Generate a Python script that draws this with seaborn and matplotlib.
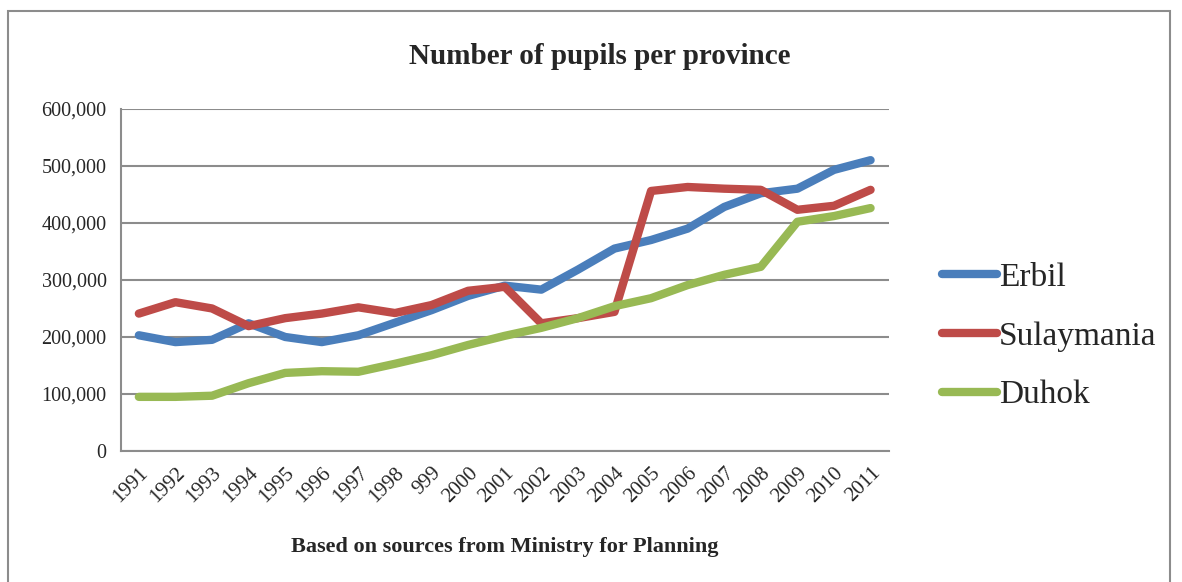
import matplotlib
matplotlib.use("Agg")
import matplotlib.pyplot as plt
import pandas as pd
import seaborn as sns
from matplotlib.patches import Rectangle
from matplotlib.ticker import FuncFormatter, FixedLocator

# ── Data ──────────────────────────────────────────────────────────────────
years = ["1991", "1992", "1993", "1994", "1995", "1996", "1997", "1998", "999",
         "2000", "2001", "2002", "2003", "2004", "2005", "2006", "2007", "2008",
         "2009", "2010", "2011"]
erbil = [203000, 191000, 195000, 224000, 200000, 191000, 203000, 225000, 247000,
         272000, 290000, 283000, 318000, 355000, 370000, 390000, 428000, 452000,
         460000, 493000, 510000]
sulaymania = [241000, 261000, 250000, 219000, 233000, 241000, 252000, 242000, 256000,
              281000, 288000, 224000, 233000, 244000, 456000, 463000, 460000, 458000,
              423000, 430000, 458000]
duhok = [95000, 95000, 97000, 119000, 137000, 140000, 139000, 153000, 168000,
         186000, 202000, 216000, 233000, 254000, 268000, 291000, 309000, 323000,
         402000, 412000, 426000]

df = pd.DataFrame({"year": years, "Erbil": erbil,
                   "Sulaymania": sulaymania, "Duhok": duhok})
long = df.melt(id_vars="year", var_name="province", value_name="pupils")
long["pos"] = long["year"].map({y: i for i, y in enumerate(years)})

palette = {"Erbil": "#4A7EBB", "Sulaymania": "#BE4B48", "Duhok": "#98B954"}

# ── Plot ──────────────────────────────────────────────────────────────────
sns.set_style("white")
plt.rcParams["font.family"] = ["Liberation Serif", "DejaVu Serif"]

fig = plt.figure(figsize=(11.82, 5.82), dpi=100)
ax = fig.add_axes([0.102, 0.225, 0.650, 0.588])

sns.lineplot(data=long, x="pos", y="pupils", hue="province", palette=palette,
             linewidth=6, solid_capstyle="round", ax=ax, legend=True)

ax.set_xlim(-0.5, len(years) - 0.5)
ax.set_ylim(0, 600000)
ax.set_yticks(range(0, 600001, 100000))
ax.yaxis.set_major_formatter(FuncFormatter(lambda v, p: f"{int(v):,}"))
ax.grid(axis="y", color="#8c8c8c", linewidth=1.5)
ax.set_axisbelow(True)

ax.xaxis.set_major_locator(FixedLocator(range(len(years))))
ax.set_xticklabels(years, rotation=45, ha="right", rotation_mode="anchor", fontsize=15)
ax.xaxis.set_minor_locator(FixedLocator([i - 0.5 for i in range(len(years) + 1)]))
ax.tick_params(axis="x", which="major", length=0, pad=9)
ax.tick_params(axis="x", which="minor", length=6, width=1.5, color="#8c8c8c")
ax.tick_params(axis="y", length=6, width=1.5, color="#8c8c8c", labelsize=14.5, pad=4)

for s in ["top", "right"]:
    ax.spines[s].set_visible(False)
for s in ["left", "bottom"]:
    ax.spines[s].set_color("#8c8c8c")
    ax.spines[s].set_linewidth(1.5)

ax.set_xlabel("Based on sources from Ministry for Planning",
              fontsize=16, fontweight="bold", labelpad=22)
ax.set_ylabel("")
fig.text(600 / 1182, 1 - 56 / 582, "Number of pupils per province",
         fontsize=21, fontweight="bold", ha="center", va="center")

leg = ax.legend(loc="center left", bbox_to_anchor=(1.03, 0.335), frameon=False,
                fontsize=24, handlelength=1.65, handletextpad=0.05,
                labelspacing=0.85)
for h in leg.get_lines():
    h.set_linewidth(6)
    h.set_solid_capstyle("round")

# outer frame
fig.patches.append(Rectangle((8 / 1182, -0.05), (1170 - 8) / 1182, 1.05 - 11 / 582,
                             transform=fig.transFigure, fill=False,
                             edgecolor="#8c8c8c", linewidth=1.5))

fig.savefig("out.png", dpi=100)
plt.close(fig)
